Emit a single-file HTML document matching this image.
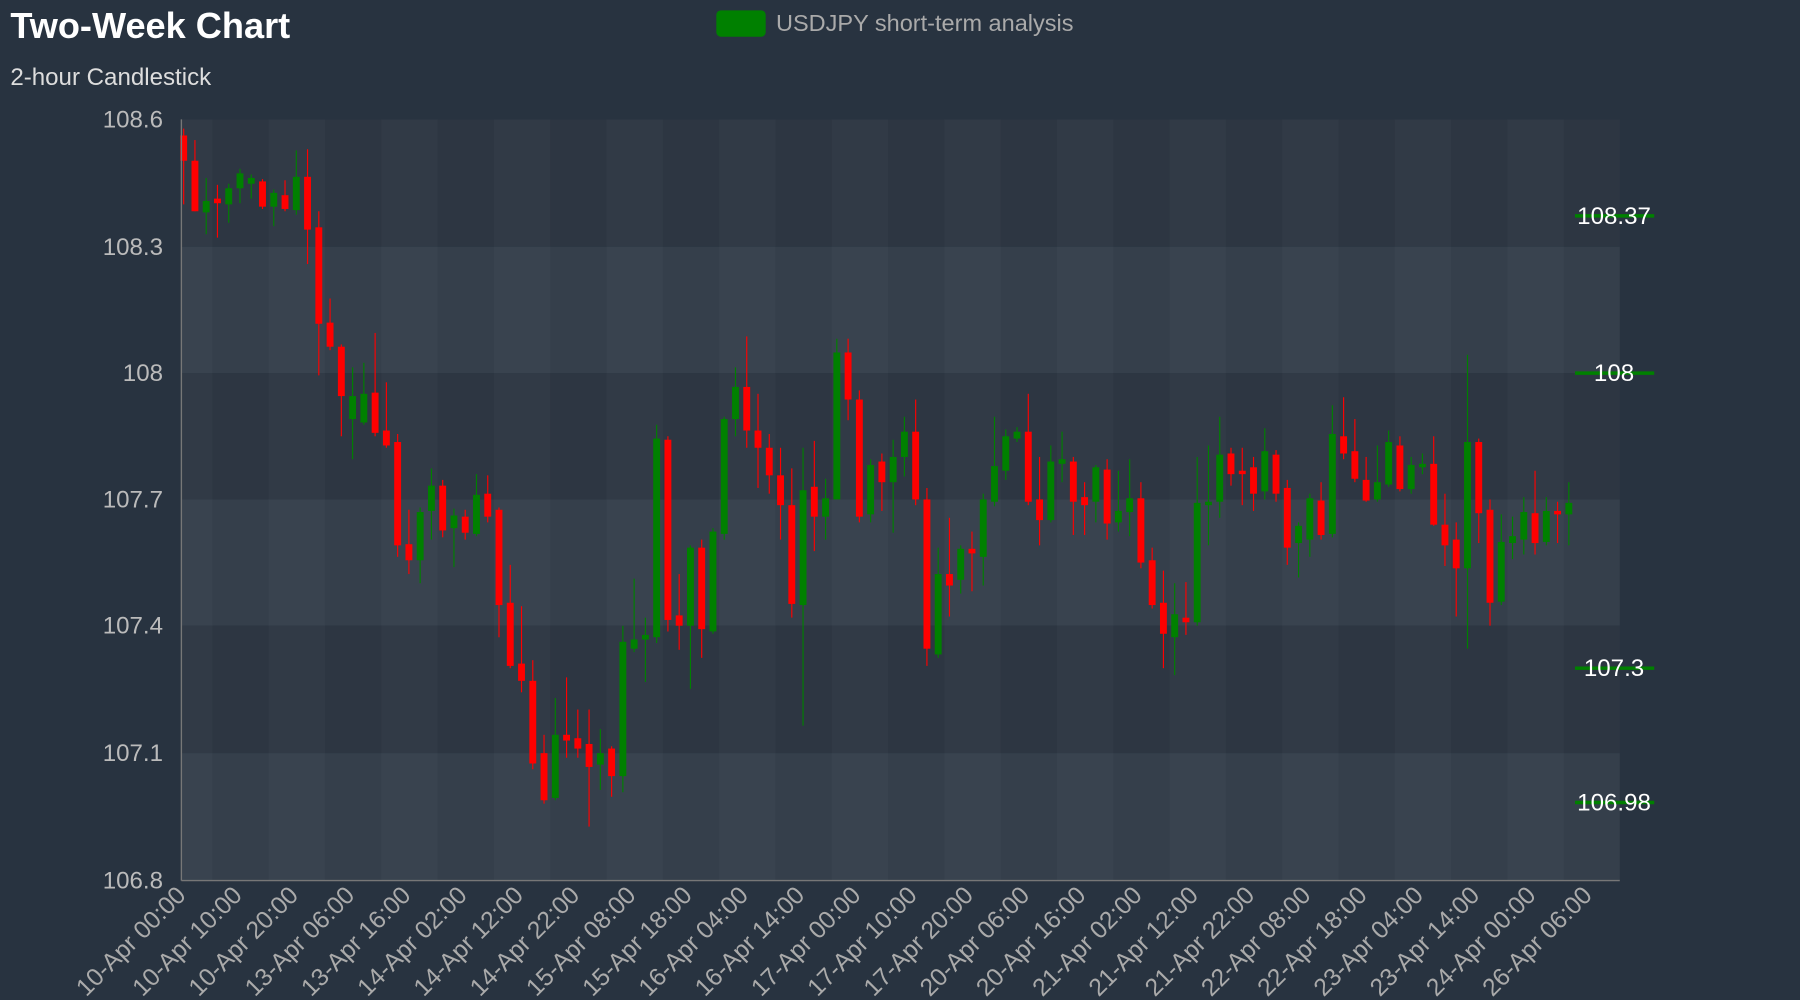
<!DOCTYPE html>
<html><head><meta charset="utf-8"><style>
html,body{margin:0;padding:0;background:#283340;}
svg{display:block;font-family:"Liberation Sans",Arial,sans-serif;}
</style></head><body>
<svg id="s" width="1800" height="1000" viewBox="0 0 1568 871" preserveAspectRatio="none" xmlns="http://www.w3.org/2000/svg">
<rect x="0" y="0" width="1568" height="871" fill="#283340"/>
<g id="bands"></g>
<g id="candles"></g>
<line x1="158" y1="104" x2="158" y2="767" stroke="#777" stroke-width="1.2"/>
<line x1="158" y1="767" x2="1411" y2="767" stroke="#777" stroke-width="1.2"/>
<g id="ylab" fill="#bbbbbb" font-size="21" text-anchor="end"></g>
<g id="xlab" fill="#aaaaaa" font-size="21.5" text-anchor="end"></g>
<g id="right"></g>
<text x="9" y="33" fill="#ffffff" font-size="31.5" font-weight="bold">Two-Week Chart</text>
<text x="9" y="74" fill="#dddddd" font-size="21">2-hour Candlestick</text>
<rect x="624" y="9" width="43" height="23" rx="4" fill="#008000"/>
<text x="676" y="27" fill="#aaaaaa" font-size="20.5">USDJPY short-term analysis</text>
</svg>
<script>
var NS="http://www.w3.org/2000/svg";
function el(p,t,a,txt){var e=document.createElementNS(NS,t);for(var k in a)e.setAttribute(k,a[k]);if(txt!==undefined)e.textContent=txt;document.getElementById(p).appendChild(e);return e;}
var hb=[104,215,325,435,545,656,767];
for(var i=0;i<6;i++)el("bands","rect",{x:158,y:hb[i],width:1253,height:hb[i+1]-hb[i],fill:i%2?"#353f4b":"#2d3642"});
var vb=[158,185];for(var v=185;v<1411;v+=49.05)vb.push(Math.min(v+49.05,1411));
for(var i=0;i<vb.length-1;i++){if(i%2==0)el("bands","rect",{x:vb[i],y:104,width:vb[i+1]-vb[i],height:663,fill:"rgba(255,255,255,0.025)"});}
var ys=[["108.6",104],["108.3",215],["108",325],["107.7",435],["107.4",545],["107.1",656],["106.8",767]];
ys.forEach(function(a){el("ylab","text",{x:142,y:a[1]+7},a[0]);});
var D=[
["r",118,140,112,178],["r",140,184,122,184],["g",175,185,155,204],["r",173,177,161,207],["g",164,178,160,194],["g",151,164,147,177],["g",155,160,152,173],["r",158,180,156,182],["g",168,180,165,197],["r",170,182,157,184],
["g",154,183,131,187],["r",154,200,130,230],["r",198,282,184,327],["r",281,302,260,305],["r",302,345,300,380],["g",345,365,320,400],["g",343,368,316,370],["r",342,377,290,380],["r",375,388,333,390],["r",385,475,378,485],
["r",474,488,444,500],["g",446,488,442,508],["g",423,445,408,470],["r",423,462,418,468],["g",449,460,443,494],["r",450,464,444,470],["g",431,465,413,467],["r",430,450,414,455],["r",444,527,442,555],["r",525,580,492,582],
["r",578,593,528,603],["r",593,665,575,670],["r",656,697,640,700],["g",640,695,608,697],["r",640,645,590,660],["r",643,652,618,660],["r",648,668,618,720],["g",656,666,635,688],["r",652,676,650,694],["g",559,676,545,690],
["g",557,565,504,568],["g",553,557,538,594],["g",382,555,370,560],["r",383,540,380,550],["r",536,545,500,566],["g",477,545,475,600],["r",477,548,470,573],["g",463,550,460,552],["g",365,465,363,470],["g",337,365,320,380],
["r",337,375,293,390],["r",375,390,343,425],["r",390,414,378,430],["r",414,440,390,470],["r",440,526,408,538],["g",427,527,390,632],["r",424,450,384,480],["g",434,450,417,470],["g",307,435,295,435],["r",307,348,295,366],
["r",348,450,340,455],["g",405,448,400,455],["r",402,420,395,445],["g",398,420,383,464],["g",376,398,363,415],["r",376,435,348,440],["r",435,565,425,580],["g",500,570,477,573],["r",500,510,451,537],["g",478,505,475,517],
["r",478,482,463,515],["g",435,485,430,510],["g",406,437,363,441],["g",380,410,374,418],["g",376,382,372,385],["r",376,437,343,440],["r",435,453,398,475],["g",402,453,388,455],["g",400,404,376,420],["r",402,437,398,466],
["r",433,440,420,466],["g",407,437,405,455],["r",409,456,400,470],["g",445,455,410,463],["g",434,446,400,467],["r",434,490,420,495],["r",488,527,477,530],["r",525,552,497,582],["g",535,555,508,588],["r",538,542,507,553],
["g",438,542,398,545],["g",437,440,388,475],["g",396,437,363,451],["r",395,413,390,423],["r",410,413,390,440],["r",407,430,398,445],["g",393,428,373,435],["r",396,430,392,437],["r",425,477,418,492],["g",458,473,455,503],
["g",434,470,430,485],["r",436,466,420,470],["g",378,465,353,468],["r",380,395,346,400],["r",393,417,365,420],["r",418,436,398,437],["g",420,435,388,437],["g",385,422,375,424],["r",388,426,380,428],["g",405,426,398,430],
["g",404,407,395,413],["r",404,457,380,458],["r",457,475,430,493],["r",470,495,455,537],["g",385,495,309,565],["r",385,447,382,473],["r",444,525,435,545],["g",472,524,448,527],["g",467,473,450,487],["g",446,470,433,483],
["r",447,473,410,483],["g",445,472,433,475],["r",445,448,437,473],["g",438,448,420,475]];
var sp=9.81,cx0=160;
D.forEach(function(d,i){var x=cx0+sp*i;var c=d[0]=="r"?"#ff0000":"#008000";
el("candles","line",{x1:x,y1:d[3],x2:x,y2:d[4],stroke:c,"stroke-width":1});
el("candles","rect",{x:x-3,y:d[1],width:6,height:Math.max(d[2]-d[1],2),fill:c});});
var L2=["10-Apr 00:00","10-Apr 10:00","10-Apr 20:00","13-Apr 06:00","13-Apr 16:00","14-Apr 02:00","14-Apr 12:00","14-Apr 22:00","15-Apr 08:00","15-Apr 18:00","16-Apr 04:00","16-Apr 14:00","17-Apr 00:00","17-Apr 10:00","17-Apr 20:00","20-Apr 06:00","20-Apr 16:00","21-Apr 02:00","21-Apr 12:00","21-Apr 22:00","22-Apr 08:00","22-Apr 18:00","23-Apr 04:00","23-Apr 14:00","24-Apr 00:00","26-Apr 06:00"];
L2.forEach(function(s,i){var x=163+i*49.0;el("xlab","text",{x:x,y:781,transform:"rotate(-45 "+x+" 781)"},s);});
[["108.37",188],["108",325],["107.3",582],["106.98",699]].forEach(function(a){
el("right","line",{x1:1372,y1:a[1],x2:1441,y2:a[1],stroke:"#008000","stroke-width":3});
el("right","text",{x:1406,y:a[1]+7,fill:"#ffffff","font-size":21,"text-anchor":"middle"},a[0]);});
</script>
</body></html>
